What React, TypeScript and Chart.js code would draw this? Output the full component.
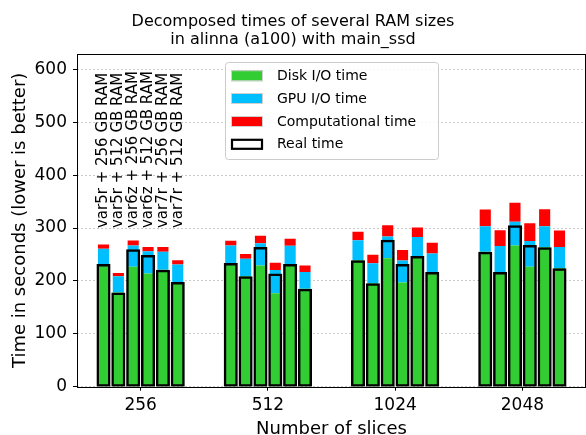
import React, { useEffect, useRef } from "react";
import { Chart, registerables } from "chart.js";

Chart.register(...registerables);

// ---------------- data ----------------
const categories = ["256", "512", "1024", "2048"];
const variants = [
  "var5r + 256 GB RAM",
  "var5r + 512 GB RAM",
  "var6z + 256 GB RAM",
  "var6z + 512 GB RAM",
  "var7r + 256 GB RAM",
  "var7r + 512 GB RAM",
];
// one row per variant, one value per number of slices
const diskIO = [
  [232, 234, 239, 255],
  [178, 209, 195.5, 217],
  [227, 229, 243, 267],
  [214, 176.5, 197, 227],
  [221, 232, 247, 263.5],
  [198, 185, 217, 224],
];
const gpuIO = [
  [29, 33, 38, 48.5],
  [31, 33, 38, 49],
  [40, 42, 41, 45],
  [42, 44, 41.5, 48.5],
  [34, 34.5, 36, 40],
  [33, 32, 35, 40],
];
const compTime = [
  [8, 9, 16, 31.5],
  [6, 9, 16, 30],
  [9.5, 14.5, 21, 36],
  [8, 14, 20, 33.5],
  [9, 13, 18, 32],
  [8, 12, 20, 31.5],
];
const realTime = [
  [232, 234, 239, 255],
  [178, 209, 195.5, 217],
  [260, 264, 278, 305],
  [249, 214, 232, 268],
  [221, 232, 247, 263.5],
  [198, 185, 217, 224],
];
const yTicks = [0, 100, 200, 300, 400, 500, 600];
const legendLabels = ["Disk I/O time", "GPU I/O time", "Computational time", "Real time"];
const titleLines = ["Decomposed times of several RAM sizes", "in alinna (a100) with main_ssd"];
const xTitle = "Number of slices";
const yTitle = "Time in seconds (lower is better)";
const labelAnchorValue = 300;

// ---------------- styles ----------------
const FONT = '"DejaVu Sans", "Liberation Sans", sans-serif';
const GREEN = "#32cd32";
const BLUE = "#00bfff";
const RED = "#ff0000";
const EDGE = "#d0d0d0";
const Y_MAX = 629;
const CAT_PCT = 0.7;

const overlayPlugin = {
  id: "overlay",
  afterDraw(chart: any) {
    const ctx = chart.ctx as CanvasRenderingContext2D;
    const { left, right, top, bottom } = chart.chartArea;
    ctx.save();

    // frame
    ctx.strokeStyle = "#000";
    ctx.lineWidth = 1;
    ctx.strokeRect(Math.round(left) + 0.5, Math.round(top) + 0.5, Math.round(right) - Math.round(left) - 1, Math.round(bottom) - Math.round(top));

    // title
    ctx.fillStyle = "#000";
    ctx.font = `16px ${FONT}`;
    ctx.textAlign = "center";
    ctx.textBaseline = "alphabetic";
    ctx.fillText(titleLines[0], 293, 25.8);
    ctx.fillText(titleLines[1], 293, 44.3);

    // x title
    ctx.font = `18px ${FONT}`;
    ctx.fillText(xTitle, (left + right) / 2, 433.5);

    // y title
    ctx.save();
    ctx.translate(25, (top + bottom) / 2);
    ctx.rotate(-Math.PI / 2);
    ctx.textAlign = "center";
    ctx.fillText(yTitle, 0, 0);
    ctx.restore();

    // rotated variant labels above first group
    const yPix = chart.scales.y.getPixelForValue(labelAnchorValue);
    ctx.font = `15px ${FONT}`;
    for (let i = 0; i < variants.length; i++) {
      const meta = chart.getDatasetMeta(i);
      const bar = meta.data[0];
      if (!bar) continue;
      ctx.save();
      ctx.translate(bar.x, yPix);
      ctx.rotate(-Math.PI / 2);
      ctx.textAlign = "left";
      ctx.textBaseline = "middle";
      ctx.fillText(variants[i], 0, 0);
      ctx.restore();
    }

    // legend
    const lx = 225.5, ly = 62.5, lw = 213, lh = 97;
    ctx.beginPath();
    if ((ctx as any).roundRect) (ctx as any).roundRect(lx, ly, lw, lh, 3);
    else ctx.rect(lx, ly, lw, lh);
    ctx.fillStyle = "rgba(255,255,255,0.85)";
    ctx.fill();
    ctx.strokeStyle = "#cccccc";
    ctx.lineWidth = 1;
    ctx.stroke();

    const rows = [75.7, 98.5, 121.5, 144.3];
    const fills = [GREEN, BLUE, RED, "#ffffff"];
    ctx.font = `14px ${FONT}`;
    ctx.textAlign = "left";
    ctx.textBaseline = "middle";
    for (let i = 0; i < 4; i++) {
      const cy = rows[i];
      ctx.fillStyle = fills[i];
      ctx.fillRect(231, cy - 5.5, 32, 11);
      if (i === 3) {
        ctx.strokeStyle = "#000";
        ctx.lineWidth = 2.2;
        ctx.strokeRect(232, cy - 4.5, 30, 9);
      } else {
        ctx.strokeStyle = EDGE;
        ctx.lineWidth = 1;
        ctx.strokeRect(231.5, cy - 5, 31, 10);
      }
      ctx.fillStyle = "#000";
      ctx.fillText(legendLabels[i], 277, cy + 0.5);
    }
    ctx.restore();
  },
};

export default function App() {
  const canvasRef = useRef<HTMLCanvasElement | null>(null);

  useEffect(() => {
    document.body.style.margin = "0";
    const canvas = canvasRef.current;
    if (!canvas) return;

    const datasets: any[] = [];
    // real time outlines (drawn on top, order 0)
    variants.forEach((v, i) => {
      datasets.push({
        label: "Real time " + v,
        data: realTime[i],
        stack: "s" + i,
        yAxisID: "y2",
        backgroundColor: "rgba(0,0,0,0)",
        borderColor: "#000",
        borderWidth: 2.5,
        borderSkipped: false,
        categoryPercentage: CAT_PCT,
        barPercentage: 0.95,
        order: 0,
      });
    });
    const comps = [
      { name: "Disk I/O time", vals: diskIO, color: GREEN },
      { name: "GPU I/O time", vals: gpuIO, color: BLUE },
      { name: "Computational time", vals: compTime, color: RED },
    ];
    comps.forEach((c) => {
      variants.forEach((v, i) => {
        datasets.push({
          label: c.name + " " + v,
          data: c.vals[i],
          stack: "s" + i,
          yAxisID: "y",
          backgroundColor: c.color,
          borderWidth: 0,
          categoryPercentage: CAT_PCT,
          barPercentage: 0.75,
          order: 1,
        });
      });
    });

    const chart = new Chart(canvas, {
      type: "bar",
      data: { labels: categories, datasets },
      options: {
        responsive: false,
        animation: false,
        layout: { padding: { top: 54, right: 0, left: 0, bottom: 0 } },
        plugins: {
          legend: { display: false },
          title: { display: false },
          tooltip: { enabled: false },
        },
        scales: {
          x: {
            type: "category",
            offset: true,
            grid: {
              display: true,
              drawOnChartArea: false,
              drawTicks: true,
              offset: false,
              tickColor: "#000",
              tickLength: 4,
              tickWidth: 1,
            },
            border: { display: false },
            ticks: {
              color: "#000",
              font: { family: FONT, size: 17 },
              padding: 5,
              maxRotation: 0,
            },
            afterFit: (scale: any) => {
              scale.height = 48.3;
            },
          },
          y: {
            type: "linear",
            min: 0,
            max: Y_MAX,
            grid: {
              color: "#bdbdbd",
              lineWidth: 0.8,
              drawTicks: true,
              tickColor: "#000",
              tickLength: 4,
              tickWidth: 1,
            },
            border: { display: false, dash: [2, 2] },
            ticks: {
              color: "#000",
              font: { family: FONT, size: 17 },
              padding: 6,
            },
            afterBuildTicks: (scale: any) => {
              scale.ticks = yTicks.map((v) => ({ value: v }));
            },
            afterFit: (scale: any) => {
              scale.width = 77;
            },
          },
          y2: {
            type: "linear",
            display: false,
            stacked: false,
            min: 0,
            max: Y_MAX,
          },
        },
      } as any,
      plugins: [overlayPlugin],
    });

    return () => chart.destroy();
  }, []);

  return (
    <div style={{ position: "absolute", left: 0, top: 0, width: 586, height: 435, background: "#fff" }}>
      <canvas ref={canvasRef} width={586} height={435} style={{ width: 586, height: 435, display: "block" }} />
    </div>
  );
}
